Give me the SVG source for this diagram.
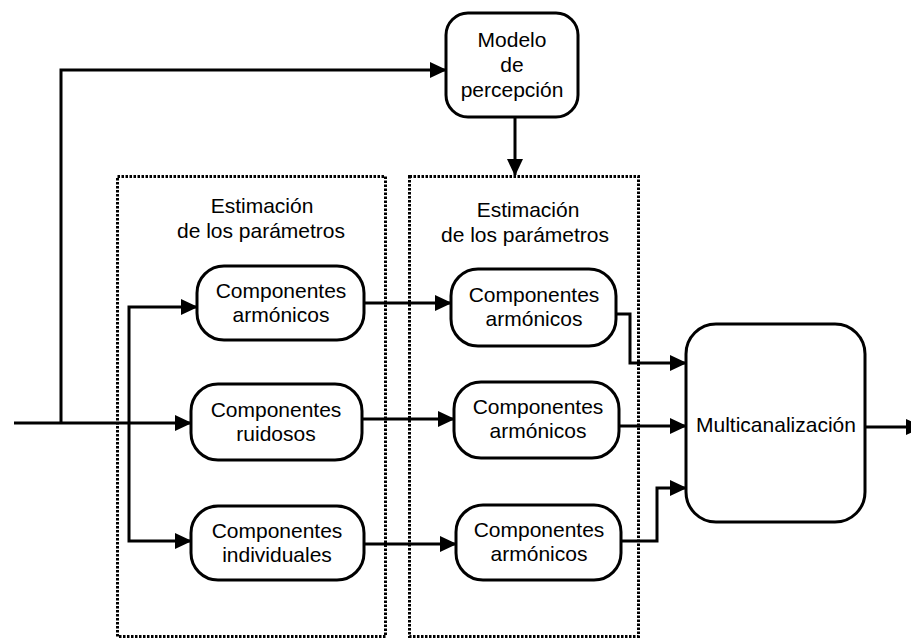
<svg xmlns="http://www.w3.org/2000/svg" width="911" height="640" viewBox="0 0 911 640">
  <style>
    .box { fill: #fff; stroke: #000; stroke-width: 3; }
    .group { fill: none; stroke: #000; stroke-width: 3; stroke-dasharray: 2.5 1.5; }
    .wire { fill: none; stroke: #000; stroke-width: 3; }
    .arr { marker-end: url(#head); }
    text { font-family: "Liberation Sans", Arial, Helvetica, sans-serif; font-size: 21px; fill: #000; text-anchor: middle; }
  </style>
  <defs>
    <marker id="head" viewBox="0 0 17 16" refX="16" refY="8" markerWidth="17" markerHeight="16" markerUnits="userSpaceOnUse" orient="auto">
      <path d="M0,0 L17,8 L0,16 z" fill="#000"/>
    </marker>
  </defs>

  <rect width="911" height="640" fill="#fff"/>

  <!-- dotted grouping frames -->
  <g id="stage1">
    <rect class="group" x="117.5" y="176.5" width="268" height="460"/>
    <text x="262" y="213">Estimación</text>
    <text x="261" y="238">de los parámetros</text>
  </g>
  <g id="stage2">
    <rect class="group" x="409.5" y="176.5" width="229" height="460"/>
    <text x="528" y="217">Estimación</text>
    <text x="525" y="242">de los parámetros</text>
  </g>

  <!-- connectors -->
  <g id="connectors">
    <path class="wire arr" d="M14,423 H191"/>
    <path class="wire arr" d="M61,423 V70 H446"/>
    <path class="wire arr" d="M129,423 V307 H197"/>
    <path class="wire arr" d="M129,423 V541 H191"/>
    <path class="wire arr" d="M515,117 V175"/>
    <path class="wire arr" d="M364,303 H451"/>
    <path class="wire arr" d="M362,419 H454"/>
    <path class="wire arr" d="M364,544 H456"/>
    <path class="wire arr" d="M616,314 H630 V363 H686"/>
    <path class="wire arr" d="M619,426 H686"/>
    <path class="wire arr" d="M621,541 H657 V488 H686"/>
    <path class="wire arr" d="M865,427 H922"/>
  </g>

  <!-- nodes -->
  <g id="modelo">
    <rect class="box" x="446" y="13" width="132" height="104" rx="22"/>
    <text x="512" y="47">Modelo</text>
    <text x="512" y="72">de</text>
    <text x="512" y="97">percepción</text>
  </g>

  <g id="armonicos1">
    <rect class="box" x="197" y="266" width="167" height="74" rx="27"/>
    <text x="281" y="298">Componentes</text>
    <text x="281" y="322">armónicos</text>
  </g>
  <g id="ruidosos">
    <rect class="box" x="191" y="384" width="171" height="76" rx="27"/>
    <text x="276" y="417">Componentes</text>
    <text x="276" y="441">ruidosos</text>
  </g>
  <g id="individuales">
    <rect class="box" x="191" y="506" width="173" height="74" rx="27"/>
    <text x="277" y="538">Componentes</text>
    <text x="277" y="562">individuales</text>
  </g>

  <g id="armonicos2">
    <rect class="box" x="451" y="269" width="165" height="77" rx="27"/>
    <text x="534" y="302">Componentes</text>
    <text x="534" y="326">armónicos</text>
  </g>
  <g id="armonicos3">
    <rect class="box" x="454" y="382" width="165" height="76" rx="27"/>
    <text x="538" y="414">Componentes</text>
    <text x="538" y="438">armónicos</text>
  </g>
  <g id="armonicos4">
    <rect class="box" x="456" y="505" width="165" height="75" rx="27"/>
    <text x="539" y="537">Componentes</text>
    <text x="539" y="561">armónicos</text>
  </g>

  <g id="multicanalizacion">
    <rect class="box" x="686" y="324" width="179" height="198" rx="30"/>
    <text x="776" y="432">Multicanalización</text>
  </g>
</svg>
